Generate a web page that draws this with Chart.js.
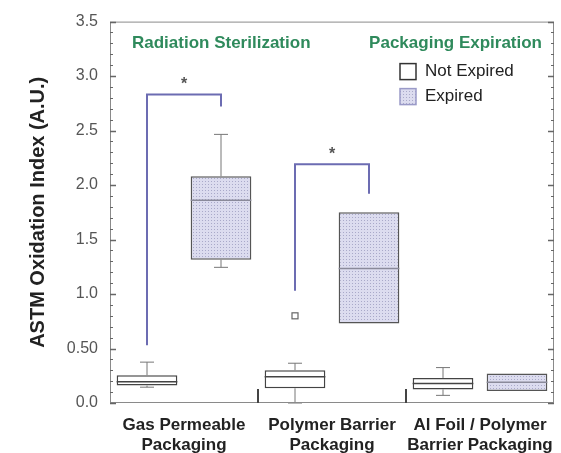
<!DOCTYPE html>
<html>
<head>
<meta charset="utf-8">
<script src="https://cdn.jsdelivr.net/npm/chart.js@4.4.0/dist/chart.umd.min.js"></script>
<style>
  html, body { margin: 0; padding: 0; background: #fff; }
  #wrap { width: 561px; height: 453px; }
</style>
</head>
<body>
<div id="wrap"><canvas id="oxChart"></canvas></div>
<script>
// ==================== DATA ====================
const categories = [
  ['Gas Permeable', 'Packaging'],
  ['Polymer Barrier', 'Packaging'],
  ['Al Foil / Polymer', 'Barrier Packaging']
];

const notExpiredMin    = [0.145, 0.0,   0.07];
const notExpiredQ1     = [0.16,  0.135, 0.125];
const notExpiredMedian = [0.195, 0.24,  0.18];
const notExpiredQ3     = [0.255, 0.30,  0.23];
const notExpiredMax    = [0.375, 0.365, 0.325];
const notExpiredOutliers = [[], [0.80], []];

const expiredMin    = [1.245, 0.73,  0.11];
const expiredQ1     = [1.315, 0.73,  0.11];
const expiredMedian = [1.86,  1.235, 0.19];
const expiredQ3     = [2.08,  1.75,  0.27];
const expiredMax    = [2.465, 1.75,  0.27];

// significance brackets: category, bracket height, left and right leg ends
const bracketCategory = [0, 1];
const bracketTop      = [2.83, 2.19];
const bracketLeftEnd  = [0.53, 1.03];
const bracketRightEnd = [2.72, 1.92];

const yTickLabels = ['0.0', '0.50', '1.0', '1.5', '2.0', '2.5', '3.0', '3.5'];

const FONT = '"Liberation Sans", Arial, sans-serif';

// ==================== PATTERN ====================
function dotPattern() {
  const c = document.createElement('canvas');
  c.width = 3; c.height = 3;
  const p = c.getContext('2d');
  p.fillStyle = '#dcdcef';
  p.fillRect(0, 0, 3, 3);
  p.fillStyle = '#a9a9c9';
  p.fillRect(1, 1, 1, 1);
  return p.createPattern(c, 'repeat');
}

// ==================== BOX EXTRAS ====================
const boxExtras = {
  id: 'boxExtras',
  afterDatasetsDraw(chart) {
    const { ctx } = chart;
    const y = chart.scales.y;
    const sets = [
      { min: notExpiredMin, med: notExpiredMedian, q1: notExpiredQ1, q3: notExpiredQ3, max: notExpiredMax, medColor: '#444' },
      { min: expiredMin, med: expiredMedian, q1: expiredQ1, q3: expiredQ3, max: expiredMax, medColor: '#8a8a9a' }
    ];
    ctx.save();
    sets.forEach((s, di) => {
      chart.getDatasetMeta(di).data.forEach((bar, i) => {
        const half = bar.width / 2;
        // whiskers
        ctx.strokeStyle = '#777';
        ctx.lineWidth = 1;
        const drawWhisker = (from, to) => {
          if (Math.abs(from - to) < 1e-6) return;
          ctx.beginPath();
          ctx.moveTo(bar.x, y.getPixelForValue(from));
          ctx.lineTo(bar.x, y.getPixelForValue(to));
          ctx.moveTo(bar.x - 7, y.getPixelForValue(to));
          ctx.lineTo(bar.x + 7, y.getPixelForValue(to));
          ctx.stroke();
        };
        drawWhisker(s.q3[i], s.max[i]);
        drawWhisker(s.q1[i], s.min[i]);
        // median
        ctx.strokeStyle = s.medColor;
        ctx.lineWidth = 1.5;
        ctx.beginPath();
        ctx.moveTo(bar.x - half, y.getPixelForValue(s.med[i]));
        ctx.lineTo(bar.x + half, y.getPixelForValue(s.med[i]));
        ctx.stroke();
        // outliers
        if (di === 0) {
          notExpiredOutliers[i].forEach(v => {
            ctx.strokeStyle = '#666';
            ctx.lineWidth = 1.2;
            ctx.strokeRect(bar.x - 3, y.getPixelForValue(v) - 3, 6, 6);
          });
        }
      });
    });

    // significance brackets
    ctx.strokeStyle = '#6c6cb2';
    ctx.lineWidth = 2;
    ctx.fillStyle = '#555';
    bracketCategory.forEach((c, k) => {
      const xl = chart.getDatasetMeta(0).data[c].x;
      const xr = chart.getDatasetMeta(1).data[c].x;
      const yt = y.getPixelForValue(bracketTop[k]);
      ctx.beginPath();
      ctx.moveTo(xl, y.getPixelForValue(bracketLeftEnd[k]));
      ctx.lineTo(xl, yt);
      ctx.lineTo(xr, yt);
      ctx.lineTo(xr, y.getPixelForValue(bracketRightEnd[k]));
      ctx.stroke();
      ctx.font = 'bold 16px ' + FONT;
      ctx.textAlign = 'center';
      ctx.textBaseline = 'middle';
      ctx.fillText('*', (xl + xr) / 2, yt - 10);
    });
    ctx.restore();
  },
  afterDraw(chart) {
    const { ctx, chartArea: a } = chart;
    const y = chart.scales.y;
    const x = chart.scales.x;
    ctx.save();
    // frame
    ctx.strokeStyle = '#8a8a8a';
    ctx.lineWidth = 1;
    ctx.strokeRect(a.left + 0.5, a.top + 0.5, a.right - a.left - 1, a.bottom - a.top - 1);
    // inward y ticks, both sides
    ctx.strokeStyle = '#666';
    y.ticks.forEach((t, i) => {
      const py = Math.round(y.getPixelForValue(t.value)) + 0.5;
      const len = i % 5 === 0 ? 6 : 3;
      ctx.lineWidth = i % 5 === 0 ? 1.5 : 1;
      ctx.beginPath();
      ctx.moveTo(a.left, py); ctx.lineTo(a.left + len, py);
      ctx.moveTo(a.right, py); ctx.lineTo(a.right - len, py);
      ctx.stroke();
    });
    // category separators on the x axis
    ctx.strokeStyle = '#444';
    ctx.lineWidth = 2;
    for (let i = 0; i < categories.length - 1; i++) {
      const px = (x.getPixelForValue(i) + x.getPixelForValue(i + 1)) / 2;
      ctx.beginPath();
      ctx.moveTo(px, a.bottom);
      ctx.lineTo(px, a.bottom - 14);
      ctx.stroke();
    }
    // panel texts
    ctx.fillStyle = '#2f8a5c';
    ctx.font = 'bold 17px ' + FONT;
    ctx.textBaseline = 'middle';
    ctx.textAlign = 'left';
    ctx.fillText('Radiation Sterilization', a.left + 22, a.top + 22);
    ctx.textAlign = 'right';
    ctx.fillText('Packaging Expiration', a.right - 12, a.top + 22);
    // legend
    const labels = chart.data.datasets.map(d => d.label);
    ctx.font = '17px ' + FONT;
    ctx.textAlign = 'left';
    labels.forEach((lab, i) => {
      const cy = a.top + 50 + i * 25;
      ctx.fillStyle = chart.data.datasets[i].backgroundColor;
      ctx.fillRect(a.left + 290, cy - 8, 16, 16);
      ctx.strokeStyle = i === 0 ? '#333' : '#9a9ac8';
      ctx.lineWidth = 1.5;
      ctx.strokeRect(a.left + 290, cy - 8, 16, 16);
      ctx.fillStyle = '#222';
      ctx.fillText(lab, a.left + 315, cy);
    });
    ctx.restore();
  }
};

// ==================== CHART ====================
const canvas = document.getElementById('oxChart');
const ctx = canvas.getContext('2d');

new Chart(ctx, {
  type: 'bar',
  data: {
    labels: categories,
    datasets: [
      {
        label: 'Not Expired',
        data: notExpiredQ1.map((v, i) => [v, notExpiredQ3[i]]),
        backgroundColor: '#ffffff',
        borderColor: '#444',
        borderWidth: 1.5,
        borderSkipped: false,
        categoryPercentage: 1.0,
        barPercentage: 0.82
      },
      {
        label: 'Expired',
        data: expiredQ1.map((v, i) => [v, expiredQ3[i]]),
        backgroundColor: dotPattern(),
        borderColor: '#555',
        borderWidth: 1.5,
        borderSkipped: false,
        categoryPercentage: 1.0,
        barPercentage: 0.82
      }
    ]
  },
  options: {
    responsive: true,
    maintainAspectRatio: false,
    animation: false,
    layout: { padding: { top: 19, right: 7, left: 0, bottom: 0 } },
    plugins: {
      legend: { display: false },
      tooltip: { enabled: false }
    },
    scales: {
      x: {
        grid: { display: false, drawTicks: false },
        border: { display: false },
        ticks: {
          autoSkip: false,
          padding: 12,
          color: '#222',
          font: { family: FONT, size: 17, weight: 'bold', lineHeight: 1.2 },
          maxRotation: 0,
          minRotation: 0
        },
        afterFit: s => { s.height = 50; s.paddingLeft = 0; s.paddingRight = 0; }
      },
      y: {
        min: 0,
        max: 3.5,
        grid: { display: false, drawTicks: false },
        border: { display: false },
        ticks: {
          stepSize: 0.1,
          autoSkip: false,
          padding: 12,
          color: '#555',
          font: { family: FONT, size: 16 },
          callback: (v, i) => (i % 5 === 0 ? yTickLabels[i / 5] : '')
        },
        title: {
          display: true,
          text: 'ASTM Oxidation Index (A.U.)',
          color: '#222',
          font: { family: FONT, size: 20, weight: 'bold' },
          padding: { top: 26, bottom: 0 }
        },
        afterFit: s => { s.width = 110; }
      }
    }
  },
  plugins: [boxExtras]
});
</script>
</body>
</html>
